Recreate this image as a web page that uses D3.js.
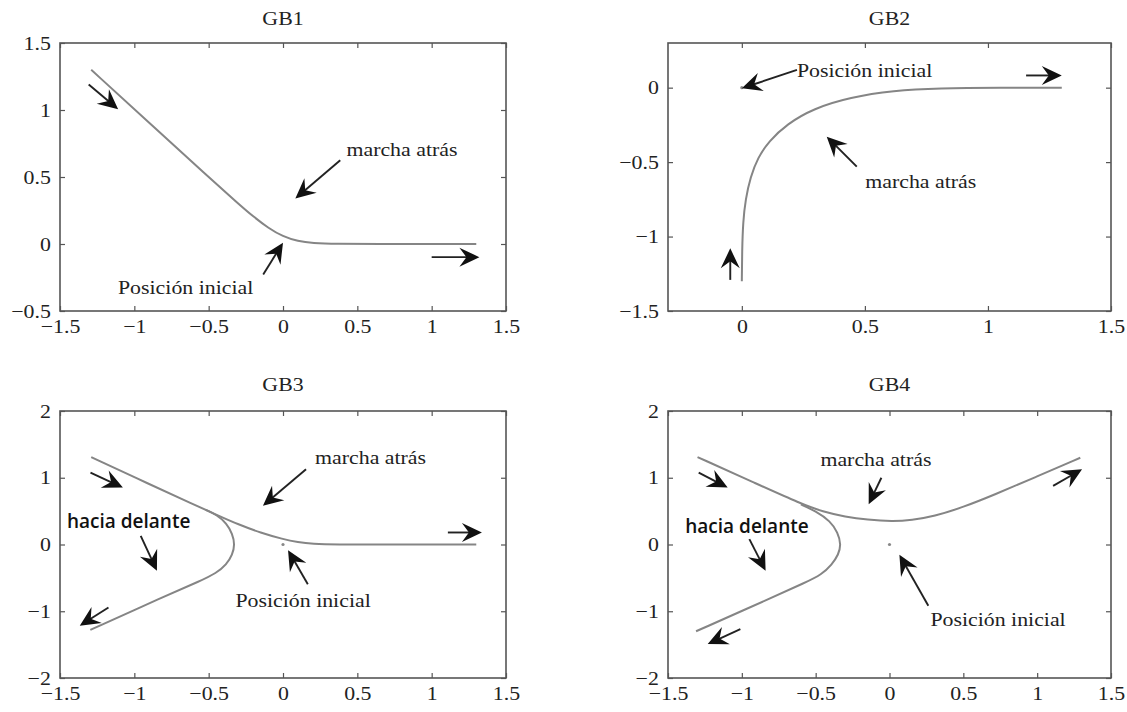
<!DOCTYPE html>
<html>
<head>
<meta charset="utf-8">
<script src="https://cdn.jsdelivr.net/npm/d3@7"></script>
<style>
  body { margin: 0; background: #fff; }
  svg { display: block; }
</style>
</head>
<body>
<script>
// curves (x, y in plot units)
var gb1X = [-1.29, -0.9, -0.5, -0.3, -0.2, -0.1, 0, 0.1, 0.2, 0.35, 0.65, 1.0, 1.3];
var gb1Y = [1.30, 0.905, 0.5, 0.3, 0.205, 0.12, 0.055, 0.02, 0.006, 0, 0, 0, 0];

var gb2X = [0, 0.001, 0.005, 0.015, 0.035, 0.065, 0.11, 0.183, 0.291, 0.44, 0.616, 0.8, 1.05, 1.3];
var gb2Y = [-1.3, -1.1, -0.9, -0.75, -0.6, -0.47, -0.36, -0.245, -0.14, -0.065, -0.02, -0.004, 0, 0];

var gb3UpX = [-1.29, -0.9, -0.6, -0.444, -0.3, -0.15, 0, 0.1, 0.2, 0.35, 0.7, 1.3];
var gb3UpY = [1.31, 0.905, 0.6, 0.442, 0.3, 0.175, 0.08, 0.035, 0.01, 0, 0, 0];
var gb3LowX = [-0.52, -0.444, -0.38, -0.34, -0.324, -0.34, -0.38, -0.45, -0.55, -0.8, -1.296];
var gb3LowY = [0.52, 0.442, 0.32, 0.16, 0, -0.15, -0.3, -0.43, -0.54, -0.78, -1.28];

var gb4UpX = [-1.30, -0.9, -0.6, -0.45, -0.3, -0.15, 0.02, 0.15, 0.3, 0.5, 0.704, 1.0, 1.292];
var gb4UpY = [1.31, 0.91, 0.61, 0.49, 0.415, 0.37, 0.345, 0.365, 0.42, 0.56, 0.74, 1.02, 1.30];
var gb4LowX = [-0.6, -0.5, -0.4, -0.35, -0.328, -0.345, -0.39, -0.46, -0.57, -0.8, -1.31];
var gb4LowY = [0.6, 0.5, 0.35, 0.18, 0, -0.15, -0.3, -0.45, -0.57, -0.8, -1.30];

// arrows: [tailX, tailY, headX, headY]
var gb1Arrows = [[-1.307, 1.19, -1.109, 1.005], [0.385, 0.625, 0.083, 0.339], [-0.133, -0.227, 0.0, 0.01], [1.0, -0.098, 1.321, -0.098]];
var gb2Arrows = [[0.224, 0.119, 0, -0.004], [1.155, 0.082, 1.30, 0.082], [0.467, -0.53, 0.345, -0.329], [-0.047, -1.291, -0.047, -1.079]];
var gb3Arrows = [[-1.295, 1.077, -1.077, 0.853], [0.155, 1.127, -0.135, 0.579], [1.109, 0.18, 1.338, 0.18], [0.167, -0.594, 0.034, -0.085], [-0.957, 0.13, -0.848, -0.394], [-1.174, -0.943, -1.367, -1.217]];
var gb4Arrows = [[-1.292, 1.077, -1.096, 0.853], [-0.055, 1.0, -0.141, 0.603], [1.108, 0.878, 1.304, 1.127], [0.263, -0.918, 0.067, -0.155], [-0.949, 0.08, -0.839, -0.394], [-1.01, -1.267, -1.231, -1.491]];

// labels: [text, x, y, anchor]
var gb1Labels = [["marcha atrás", 0.80, 0.658, "middle"], ["Posición inicial", -0.655, -0.37, "middle"]];
var gb2Labels = [["Posición inicial", 0.224, 0.074, "start"], ["marcha atrás", 0.727, -0.676, "middle"]];
var gb3Labels = [["marcha atrás", 0.589, 1.202, "middle"], ["Posición inicial", 0.135, -0.943, "middle"]];
var gb4Labels = [["marcha atrás", -0.092, 1.177, "middle"], ["Posición inicial", 0.735, -1.217, "middle"]];
var gb3Note = ["hacia delante", -1.453, 0.243];
var gb4Note = ["hacia delante", -1.383, 0.177];

var xTicksA = [-1.5, -1, -0.5, 0, 0.5, 1, 1.5];
var yTicks1 = [-0.5, 0, 0.5, 1, 1.5];
var xTicks2 = [0, 0.5, 1, 1.5];
var yTicks2 = [-1.5, -1, -0.5, 0];
var yTicks34 = [-2, -1, 0, 1, 2];

var svg = d3.select("body").append("svg")
  .attr("width", 1127)
  .attr("height", 712)
  .style("background", "#fff");

var serif = "'Liberation Serif', 'Times New Roman', serif";
var fmt = d3.format("");
var stretch = 1.15;

function drawPanel(p) {
  var x = d3.scaleLinear().domain(p.xd).range([p.l, p.r]);
  var y = d3.scaleLinear().domain(p.yd).range([p.b, p.t]);
  var g = svg.append("g");

  // title
  g.append("text")
    .attr("transform", "translate(" + (p.l + p.r) / 2 + "," + p.tt + ") scale(" + stretch + ",1)")
    .attr("text-anchor", "middle")
    .style("font-family", serif).style("font-size", "19px").style("fill", "#222")
    .text(p.title);

  // axes, ticks pointing inward on all sides
  var axes = [
    [d3.axisBottom(x), "translate(0," + p.b + ")", true],
    [d3.axisTop(x), "translate(0," + p.t + ")", false],
    [d3.axisLeft(y), "translate(" + p.l + ",0)", true],
    [d3.axisRight(y), "translate(" + p.r + ",0)", false]
  ];
  axes.forEach(function(a, i) {
    var ax = a[0].tickValues(i < 2 ? p.xt : p.yt).tickSize(-5).tickPadding(i < 2 ? 9 : 8)
      .tickFormat(a[2] ? fmt : "");
    var ag = g.append("g").attr("transform", a[1]).call(ax);
    ag.select(".domain").remove();
    ag.selectAll("line").attr("stroke", "#555").attr("stroke-width", 1.2);
    ag.selectAll("text")
      .style("font-family", serif).style("font-size", "19px").style("fill", "#222")
      .attr("transform", "scale(" + stretch + ",1)");
  });

  g.append("rect")
    .attr("x", p.l).attr("y", p.t)
    .attr("width", p.r - p.l).attr("height", p.b - p.t)
    .attr("fill", "none").attr("stroke", "#555").attr("stroke-width", 1.6);

  var line = d3.line()
    .x(function(d) { return x(d[0]); })
    .y(function(d) { return y(d[1]); })
    .curve(d3.curveBasis);

  p.curves.forEach(function(c) {
    g.append("path")
      .datum(d3.zip(c[0], c[1]))
      .attr("d", line)
      .attr("fill", "none")
      .attr("stroke", "#858585")
      .attr("stroke-width", 2);
  });

  if (p.dot) {
    g.append("circle").attr("cx", x(0)).attr("cy", y(0)).attr("r", 1.6).attr("fill", "#888");
  }

  p.arrows.forEach(function(a) {
    var x1 = x(a[0]), y1 = y(a[1]), x2 = x(a[2]), y2 = y(a[3]);
    var dx = x2 - x1, dy = y2 - y1, len = Math.sqrt(dx * dx + dy * dy);
    var ux = dx / len, uy = dy / len, nx = -uy, ny = ux;
    var L = 20, W = 9.5, N = 7;
    g.append("line")
      .attr("x1", x1).attr("y1", y1)
      .attr("x2", x2 - ux * (L - N - 1)).attr("y2", y2 - uy * (L - N - 1))
      .attr("stroke", "#222").attr("stroke-width", 1.9);
    var pts = [
      [x2, y2],
      [x2 - ux * L + nx * W, y2 - uy * L + ny * W],
      [x2 - ux * (L - N), y2 - uy * (L - N)],
      [x2 - ux * L - nx * W, y2 - uy * L - ny * W]
    ];
    g.append("path")
      .attr("d", "M" + pts.map(function(q) { return q.join(","); }).join("L") + "Z")
      .attr("fill", "#111");
  });

  p.labels.forEach(function(lb) {
    g.append("text")
      .attr("transform", "translate(" + x(lb[1]) + "," + y(lb[2]) + ") scale(" + stretch + ",1)")
      .attr("text-anchor", lb[3])
      .style("font-family", serif).style("font-size", "19px").style("fill", "#222")
      .text(lb[0]);
  });

  if (p.note) {
    g.append("text")
      .attr("x", x(p.note[1])).attr("y", y(p.note[2]))
      .style("font-family", "'Open Sans', sans-serif").style("font-size", "19px")
      .style("font-weight", 600).style("fill", "#111")
      .text(p.note[0]);
  }
}

drawPanel({ title: "GB1", l: 60, r: 506, t: 43, b: 311, tt: 25,
  xd: [-1.5, 1.5], yd: [-0.5, 1.5], xt: xTicksA, yt: yTicks1,
  curves: [[gb1X, gb1Y]], arrows: gb1Arrows, labels: gb1Labels });

drawPanel({ title: "GB2", l: 668, r: 1111, t: 43, b: 311, tt: 25,
  xd: [-0.3, 1.5], yd: [-1.5, 0.3], xt: xTicks2, yt: yTicks2,
  curves: [[gb2X, gb2Y]], arrows: gb2Arrows, labels: gb2Labels, dot: true });

drawPanel({ title: "GB3", l: 60, r: 506, t: 411, b: 678, tt: 391,
  xd: [-1.5, 1.5], yd: [-2, 2], xt: xTicksA, yt: yTicks34,
  curves: [[gb3UpX, gb3UpY], [gb3LowX, gb3LowY]], arrows: gb3Arrows, labels: gb3Labels,
  note: gb3Note, dot: true });

drawPanel({ title: "GB4", l: 668, r: 1111, t: 411, b: 678, tt: 391,
  xd: [-1.5, 1.5], yd: [-2, 2], xt: xTicksA, yt: yTicks34,
  curves: [[gb4UpX, gb4UpY], [gb4LowX, gb4LowY]], arrows: gb4Arrows, labels: gb4Labels,
  note: gb4Note, dot: true });
</script>
</body>
</html>
